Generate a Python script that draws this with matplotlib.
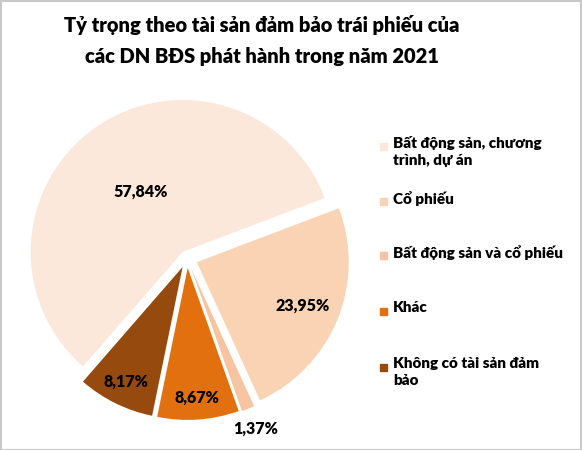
import matplotlib
import matplotlib.pyplot as plt
import numpy as np
from matplotlib.patches import Rectangle

plt.rcParams['font.family'] = ['Lato', 'Noto Sans', 'DejaVu Sans']

title = "Tỷ trọng theo tài sản đảm bảo trái phiếu của\ncác DN BĐS phát hành trong năm 2021"
labels = ["Bất động sản, chương\ntrình, dự án", "Cổ phiếu", "Bất động sản và cổ phiếu",
          "Khác", "Không có tài sản đảm\nbảo"]
values = [57.84, 23.95, 1.37, 8.67, 8.17]
colors = ['#FCE8DA', '#F9D3B4', '#F6C4A1', '#E3700F', '#974A0E']

explode = [0.05, 0.07, 0.07, 0.065, 0.065]
label_dist = [0.53, 0.82, 1.21, 0.92, 0.91]

W = 'heavy'

fig = plt.figure(figsize=(5.82, 4.5), dpi=100)
ax = fig.add_axes([0, 0.0044, 0.653, 0.844])

wedges, _ = ax.pie(values, colors=colors, explode=explode, startangle=229,
                   counterclock=False, radius=1.0,
                   wedgeprops=dict(linewidth=0))
ax.set_xlim(-1.23, 1.27)
ax.set_ylim(-1.25, 1.25)
ax.set_aspect('equal')
ax.axis('off')

for w, v, d in zip(wedges, values, label_dist):
    ang = np.deg2rad((w.theta1 + w.theta2) / 2)
    txt = '{:.2f}%'.format(v).replace('.', ',')
    ax.text(d * np.cos(ang), d * np.sin(ang), txt, ha='center', va='center',
            fontsize=11.5, fontweight=W, color='black')

fig.text(262 / 582, 1 - 25 / 450, title.split('\n')[0], ha='center', va='center',
         fontsize=14.5, fontweight=W)
fig.text(262 / 582, 1 - 56 / 450, title.split('\n')[1], ha='center', va='center',
         fontsize=14.5, fontweight=W)

# legend drawn by hand so the entries keep an even spacing
leg_y = [146, 201, 255, 311, 367]
for lab, col, yp in zip(labels, colors, leg_y):
    yf = 1 - yp / 450
    fig.patches.append(Rectangle((380 / 582, yf - 3.5 / 450), 7 / 582, 7 / 450,
                                 transform=fig.transFigure, color=col))
    fig.text(393 / 582, yf + 10 / 450, lab, ha='left', va='top', fontsize=11,
             fontweight=W, linespacing=1.4)

fig.patches.append(Rectangle((0.001, 0.001), 0.997, 0.997, transform=fig.transFigure,
                             fill=False, edgecolor='#C8C8C8', linewidth=1.5))

fig.savefig('out.png', dpi=100)
